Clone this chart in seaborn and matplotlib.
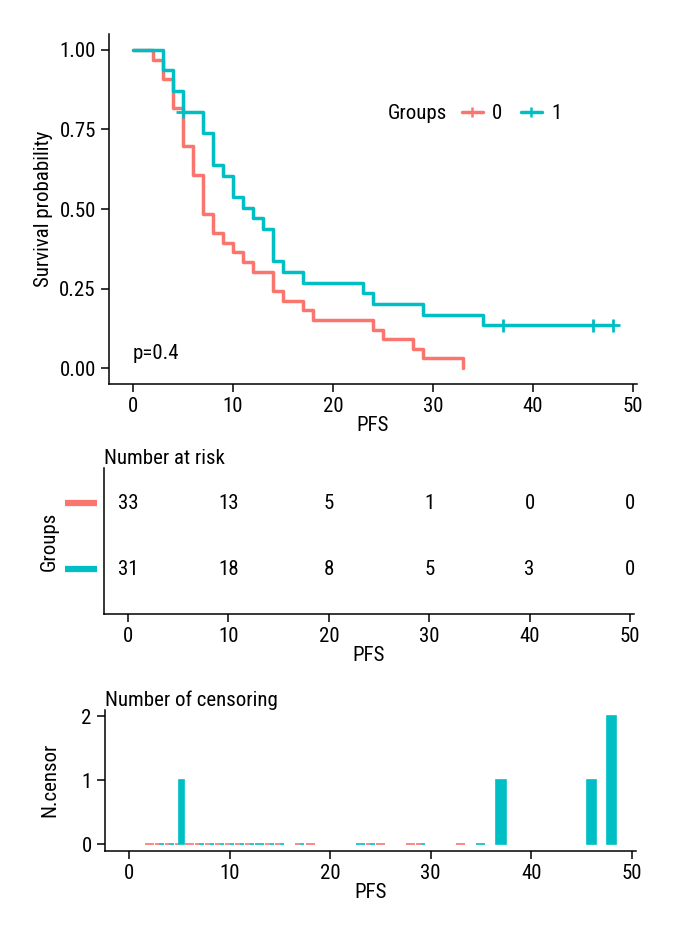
import numpy as np
import pandas as pd
import matplotlib
matplotlib.use("Agg")
import matplotlib.pyplot as plt
import matplotlib.transforms as mtransforms
from matplotlib.lines import Line2D
from matplotlib import font_manager
import seaborn as sns

# ---- data (PFS, two groups) ----
groups = ["0", "1"]
g0_time   = [2, 3, 4, 5, 6, 7, 8, 9, 10, 11, 12, 14, 15, 17, 18, 24, 25, 28, 29, 33]
g0_event  = [1, 2, 3, 4, 3, 4, 2, 1, 1, 1, 1, 2, 1, 1, 1, 1, 1, 1, 1, 1]
g0_censor = [0, 0, 0, 0, 0, 0, 0, 0, 0, 0, 0, 0, 0, 0, 0, 0, 0, 0, 0, 0]
g1_time   = [3, 4, 5, 7, 8, 9, 10, 11, 12, 13, 14, 15, 17, 23, 24, 29, 35, 37, 46, 48]
g1_event  = [2, 2, 2, 2, 3, 1, 2, 1, 1, 1, 3, 1, 1, 1, 1, 1, 1, 0, 0, 0]
g1_censor = [0, 0, 1, 0, 0, 0, 0, 0, 0, 0, 0, 0, 0, 0, 0, 0, 0, 1, 1, 2]
group_n   = [33, 31]
p_text    = "p=0.4"
risk_times = [0, 10, 20, 30, 40, 50]
y_ticks    = [0.00, 0.25, 0.50, 0.75, 1.00]

palette = {"0": "#F8766D", "1": "#00BFC4"}
XLIM = (-2.4, 50.4)


def km_table(name, n, times, events, censors):
    rows = [dict(PFS=0.0, surv=1.0, Groups=name, n_risk=n, n_event=0, n_censor=0)]
    at_risk, s = n, 1.0
    for t, d, c in zip(times, events, censors):
        s = s * (at_risk - d) / at_risk
        rows.append(dict(PFS=t, surv=s, Groups=name, n_risk=at_risk,
                         n_event=d, n_censor=c))
        at_risk -= d + c
    return pd.DataFrame(rows)


km = pd.concat([km_table("0", group_n[0], g0_time, g0_event, g0_censor),
                km_table("1", group_n[1], g1_time, g1_event, g1_censor)],
               ignore_index=True)

# pick a narrow face if one is installed
installed = {f.name for f in font_manager.fontManager.ttflist}
families = [f for f in ["Roboto Condensed", "Liberation Sans Narrow",
                        "Open Sans Condensed", "Roboto"] if f in installed]
families.append("DejaVu Sans")

sns.set_theme(style="ticks")
plt.rcParams["font.family"] = families
plt.rcParams["axes.linewidth"] = 1.1
plt.rcParams["xtick.major.width"] = 1.1
plt.rcParams["ytick.major.width"] = 1.1
plt.rcParams["text.color"] = "black"
plt.rcParams["axes.labelcolor"] = "black"
plt.rcParams["xtick.color"] = "black"
plt.rcParams["ytick.color"] = "black"
plt.rcParams["axes.edgecolor"] = "black"
FS = 15

fig = plt.figure(figsize=(6.8, 9.4), dpi=100)
ax1 = fig.add_axes([0.1603, 0.5915, 0.7765, 0.3723])
ax2 = fig.add_axes([0.1529, 0.3468, 0.7794, 0.1553])
ax3 = fig.add_axes([0.1544, 0.0950, 0.7804, 0.1500])

# ---- survival curves ----
sns.lineplot(data=km, x="PFS", y="surv", hue="Groups", palette=palette,
             drawstyle="steps-post", linewidth=2.5, estimator=None,
             sort=False, legend=False, ax=ax1)
cens = km[km["n_censor"] > 0]
sns.scatterplot(data=cens, x="PFS", y="surv", hue="Groups", palette=palette,
                marker="+", s=90, linewidth=2, legend=False, ax=ax1, zorder=5)
ax1.set_xlim(*XLIM)
ax1.set_ylim(-0.05, 1.05)
ax1.set_xticks(risk_times)
ax1.set_yticks(y_ticks)
ax1.set_yticklabels([f"{v:.2f}" for v in y_ticks])
ax1.tick_params(labelsize=FS)
ax1.set_xlabel("PFS", fontsize=FS, labelpad=0)
ax1.set_ylabel("Survival probability", fontsize=FS)
ax1.yaxis.set_label_coords(-0.106, 0.5)
ax1.text(0, 0.045, p_text, fontsize=FS, va="center", ha="left")

handles = [Line2D([], [], color=palette[g], lw=2.5, marker="+", ms=7, mew=1.8)
           for g in groups]
ax1.text(0.527, 0.772, "Groups", transform=ax1.transAxes, fontsize=FS, va="center")
ax1.legend(handles, groups, loc="center left", bbox_to_anchor=(0.668, 0.772),
           ncol=2, frameon=False, fontsize=FS, handlelength=1.0,
           handletextpad=0.45, columnspacing=0.9, borderaxespad=0, borderpad=0)

# ---- number at risk ----
row_y = {"0": 2, "1": 1}
for g in groups:
    sub = km[(km["Groups"] == g) & (km["PFS"] > 0)]
    n0 = group_n[groups.index(g)]
    for t in risk_times:
        before = sub[sub["PFS"] < t]
        left = n0 - before["n_event"].sum() - before["n_censor"].sum()
        ax2.text(t, row_y[g], str(int(left)), ha="center", va="center",
                 fontsize=FS)
ax2.set_xlim(*XLIM)
ax2.set_ylim(0.32, 2.53)
ax2.set_xticks(risk_times)
ax2.set_yticks([])
ax2.tick_params(labelsize=FS)
ax2.set_xlabel("PFS", fontsize=FS, labelpad=0)
ax2.set_ylabel("Groups", fontsize=FS)
ax2.yaxis.set_label_coords(-0.086, 0.5)
ax2.set_title("Number at risk", loc="left", fontsize=FS, pad=3)
trans = mtransforms.blended_transform_factory(ax2.transAxes, ax2.transData)
for g in groups:
    ax2.plot([-0.074, -0.013], [row_y[g], row_y[g]], color=palette[g], lw=4.5,
             transform=trans, clip_on=False, solid_capstyle="butt")

# ---- number of censoring (dodged bars like ggplot) ----
present = km[km["PFS"] > 0].groupby("PFS")["Groups"].apply(list)
for g in groups:
    sub = km[(km["Groups"] == g) & (km["PFS"] > 0)]
    xs, ws = [], []
    for t in sub["PFS"]:
        gl = sorted(present[t])
        if len(gl) == 1:
            xs.append(t)
            ws.append(0.9)
        else:
            k = gl.index(g)
            xs.append(t - 0.225 + 0.45 * k)
            ws.append(0.45)
    ax3.bar(xs, sub["n_censor"], width=ws, color=palette[g],
            edgecolor=palette[g], linewidth=1.2)
ax3.set_xlim(*XLIM)
ax3.set_ylim(-0.1, 2.1)
ax3.set_xticks(risk_times)
ax3.set_yticks([0, 1, 2])
ax3.tick_params(labelsize=FS)
ax3.set_xlabel("PFS", fontsize=FS, labelpad=0)
ax3.set_ylabel("N.censor", fontsize=FS)
ax3.yaxis.set_label_coords(-0.086, 0.5)
ax3.set_title("Number of censoring", loc="left", fontsize=FS, pad=3)

for a in (ax1, ax2, ax3):
    sns.despine(ax=a)

fig.savefig("out.png", dpi=100)
